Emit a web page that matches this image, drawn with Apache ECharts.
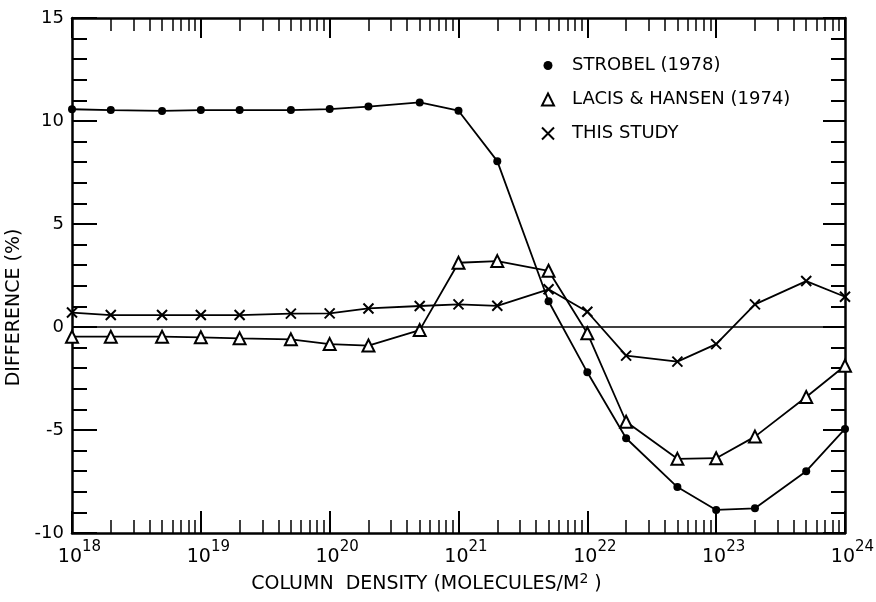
<!DOCTYPE html>
<html><head><meta charset="utf-8">
<script src="https://cdn.jsdelivr.net/npm/echarts@6/dist/echarts.min.js"></script>
<style>html,body{margin:0;padding:0;background:#fff}#c{width:876px;height:602px}</style>
</head><body><div id="c"></div>
<script>
// ---- data ----
const columnDensity = [1e18, 2e18, 5e18, 1e19, 2e19, 5e19, 1e20, 2e20, 5e20, 1e21, 2e21, 5e21, 1e22, 2e22, 5e22, 1e23, 2e23, 5e23, 1e24];
const strobel     = [10.57, 10.53, 10.49, 10.53, 10.53, 10.53, 10.58, 10.7, 10.9, 10.5, 8.05, 1.25, -2.2, -5.4, -7.77, -8.88, -8.8, -7.0, -4.95];
const lacisHansen = [-0.47, -0.47, -0.47, -0.5, -0.55, -0.6, -0.83, -0.9, -0.15, 3.12, 3.2, 2.73, -0.3, -4.6, -6.4, -6.37, -5.32, -3.4, -1.88];
const thisStudy   = [0.7, 0.58, 0.58, 0.58, 0.58, 0.65, 0.66, 0.9, 1.02, 1.1, 1.03, 1.83, 0.74, -1.39, -1.68, -0.83, 1.1, 2.23, 1.47];
const seriesNames = ['STROBEL (1978)', 'LACIS & HANSEN (1974)', 'THIS STUDY'];
const decadeTicks = [1e18, 1e19, 1e20, 1e21, 1e22, 1e23, 1e24];
const minorMultipliers = [2, 3, 4, 5, 6, 7, 8, 9];
const yMin = -10, yMax = 15, yInterval = 5;

const minorTicks = [];
decadeTicks.slice(0, -1).forEach(d => minorMultipliers.forEach(m => minorTicks.push(m * d)));
// tiny widening so the end decades survive floating-point rounding of the log extent
const xMin = decadeTicks[0] / 1.000001;
const xMax = decadeTicks[decadeTicks.length - 1] * 1.000001;

const FONT = 'DejaVu Sans';
const xPath = 'path://M0,0L10,10M10,0L0,10';
const dotPath = 'path://M0,0M12,12M6,1.5A4.5,4.5,0,1,1,5.99,1.5Z';

const pairs = arr => columnDensity.map((x, i) => [x, arr[i]]);

function xAxisBase(pos, extra) {
  return Object.assign({
    type: 'log', logBase: 10, min: xMin, max: xMax, position: pos, gridIndex: 0,
    splitLine: { show: false },
    axisLine: { show: false, onZero: false },
    axisLabel: { show: false },
    axisTick: { show: false }
  }, extra);
}

const chart = echarts.init(document.getElementById('c'), null, { renderer: 'canvas' });
chart.setOption({
  backgroundColor: '#fff',
  animation: false,
  textStyle: { fontFamily: FONT, color: '#000' },
  grid: { left: 72, right: 31, top: 18, bottom: 69, containLabel: false, outerBoundsMode: 'none' },
  legend: {
    orient: 'vertical', left: 536, top: 50, itemWidth: 12, itemHeight: 12, itemGap: 13,
    textStyle: { fontFamily: FONT, fontSize: 18, color: '#000', padding: [0, 0, 0, 13], lineHeight: 21 },
    data: [
      { name: seriesNames[0], icon: dotPath, itemStyle: { color: '#000', borderWidth: 0 } },
      { name: seriesNames[1], icon: 'triangle', itemStyle: { color: '#fff', borderColor: '#000', borderWidth: 2 } },
      { name: seriesNames[2], icon: xPath, itemStyle: { color: '#000', borderColor: '#000', borderWidth: 2 } }
    ]
  },
  xAxis: [
    xAxisBase('bottom', {
      axisLine: { show: true, onZero: false, lineStyle: { color: '#000', width: 2.5 } },
      axisTick: { show: true, inside: true, length: 22, customValues: decadeTicks, lineStyle: { color: '#000', width: 2 } },
      axisLabel: {
        show: true, customValues: decadeTicks, margin: 7, color: '#000',
        formatter: v => '{sp|}{b|10}{s|' + Math.round(Math.log10(v)) + '}',
        rich: {
          sp: { width: 15 },
          b: { fontFamily: FONT, fontSize: 19, color: '#000', verticalAlign: 'bottom', padding: [8, 0, 0, 0] },
          s: { fontFamily: FONT, fontSize: 15, color: '#000', verticalAlign: 'top' }
        }
      },
      name: 'COLUMN  DENSITY (MOLECULES/M{s|2} )',
      nameLocation: 'middle', nameGap: 38,
      nameTextStyle: {
        fontFamily: FONT, fontSize: 19, color: '#000', padding: [0, 64, 0, 0],
        rich: { s: { fontFamily: FONT, fontSize: 14, color: '#000', verticalAlign: 'top', padding: [0, 0, 10, 0] } }
      }
    }),
    xAxisBase('bottom', {
      axisTick: { show: true, inside: true, length: 13, customValues: minorTicks, lineStyle: { color: '#000', width: 1.5 } }
    }),
    xAxisBase('top', {
      axisLine: { show: true, onZero: false, lineStyle: { color: '#000', width: 2.5 } },
      axisTick: { show: true, inside: true, length: 20, customValues: decadeTicks, lineStyle: { color: '#000', width: 2 } }
    }),
    xAxisBase('top', {
      axisTick: { show: true, inside: true, length: 13, customValues: minorTicks, lineStyle: { color: '#000', width: 1.5 } }
    })
  ],
  yAxis: [
    {
      type: 'value', min: yMin, max: yMax, interval: yInterval, position: 'left',
      splitLine: { show: false },
      axisLine: { show: true, onZero: false, lineStyle: { color: '#000', width: 2.5 } },
      axisTick: { show: true, inside: true, length: 25, lineStyle: { color: '#000', width: 2 } },
      minorTick: { show: true, splitNumber: 5, length: 15, lineStyle: { color: '#000', width: 2 } },
      axisLabel: { show: true, margin: 8, fontFamily: FONT, fontSize: 18, color: '#000' },
      name: 'DIFFERENCE (%)', nameLocation: 'middle', nameGap: 38, nameRotate: 90,
      nameTextStyle: { fontFamily: FONT, fontSize: 19, color: '#000', padding: [14, 64, 0, 0] }
    },
    {
      type: 'value', min: yMin, max: yMax, interval: yInterval, position: 'right',
      splitLine: { show: false },
      axisLine: { show: true, onZero: false, lineStyle: { color: '#000', width: 2.5 } },
      axisTick: { show: true, inside: true, length: 22, lineStyle: { color: '#000', width: 2 } },
      minorTick: { show: true, splitNumber: 5, length: 14, lineStyle: { color: '#000', width: 2 } },
      axisLabel: { show: false }
    }
  ],
  series: [
    {
      name: seriesNames[0], type: 'line', xAxisIndex: 0, yAxisIndex: 0, data: pairs(strobel),
      symbol: 'circle', symbolSize: 8, showAllSymbol: true,
      itemStyle: { color: '#000' }, lineStyle: { color: '#000', width: 1.8 }
    },
    {
      name: seriesNames[1], type: 'line', xAxisIndex: 0, yAxisIndex: 0, data: pairs(lacisHansen),
      symbol: 'triangle', symbolSize: 12, showAllSymbol: true,
      itemStyle: { color: '#fff', borderColor: '#000', borderWidth: 2 }, lineStyle: { color: '#000', width: 1.8 }
    },
    {
      name: seriesNames[2], type: 'line', xAxisIndex: 0, yAxisIndex: 0, data: pairs(thisStudy),
      symbol: xPath, symbolSize: 10, showAllSymbol: true,
      itemStyle: { color: '#000', borderColor: '#000', borderWidth: 2 }, lineStyle: { color: '#000', width: 1.8 },
      markLine: {
        silent: true, symbol: 'none', label: { show: false },
        lineStyle: { color: '#000', width: 1.5, type: 'solid' },
        data: [{ yAxis: 0 }]
      }
    }
  ]
});
</script></body></html>
